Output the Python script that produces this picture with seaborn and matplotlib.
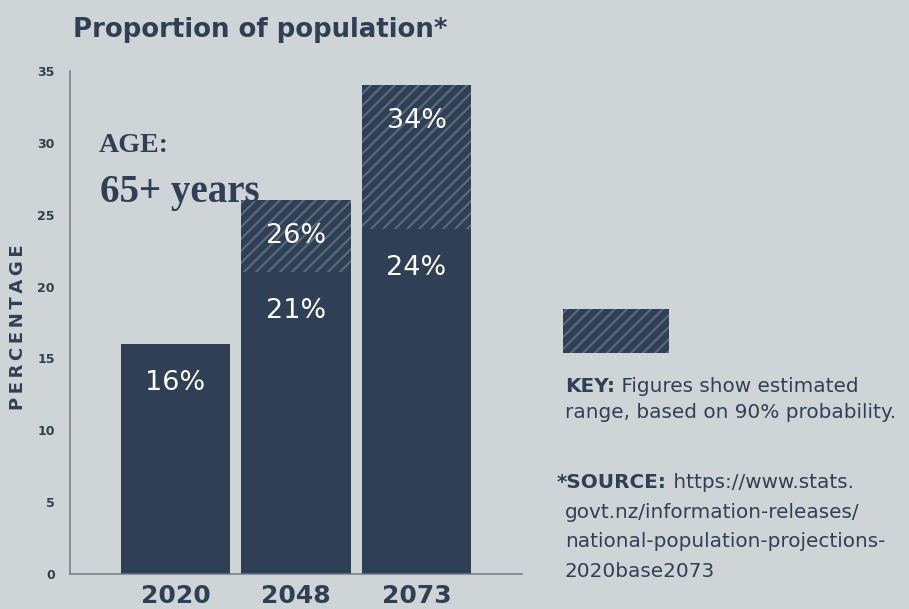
import matplotlib
matplotlib.use("Agg")
import matplotlib.pyplot as plt
import seaborn as sns
import pandas as pd
from matplotlib.patches import Rectangle

# ---- data ----
years = ["2020", "2048", "2073"]
base_values = [16, 21, 24]          # solid part (%)
upper_values = [16, 26, 34]         # top of estimated range (%)
base_labels = ["16%", "21%", "24%"]
upper_labels = [None, "26%", "34%"]
y_ticks = [0, 5, 10, 15, 20, 25, 30, 35]

BG = "#cfd5d6"
NAVY = "#2f3f55"
HATCH = "#5d6c7d"
SPINE = "#6b7888"
SANS = ["DejaVu Sans"]

sns.set_theme(style="white")
plt.rcParams["font.family"] = SANS
plt.rcParams["hatch.color"] = HATCH
plt.rcParams["hatch.linewidth"] = 2.0

DPI = 72
fig = plt.figure(figsize=(909 / DPI, 609 / DPI), dpi=DPI, facecolor=BG)
ax = fig.add_axes([70 / 909, 35 / 609, 452 / 909, 503 / 609])
ax.set_facecolor(BG)

df = pd.DataFrame({"year": years, "base": base_values, "upper": upper_values})

sns.barplot(data=df, x="year", y="upper", ax=ax, color=NAVY, saturation=1,
            width=0.905, linewidth=0)
sns.barplot(data=df, x="year", y="base", ax=ax, color=NAVY, saturation=1,
            width=0.905, linewidth=0)

for p in ax.patches[:len(years)]:
    p.set_hatch("//")
    p.set_edgecolor(HATCH)
    p.set_linewidth(0)

for i, (b, bl) in enumerate(zip(base_values, base_labels)):
    ax.annotate(bl, xy=(i, b), xytext=(0, -39), textcoords="offset points",
                ha="center", va="center", color="white", fontsize=27)
for i, (u, ul) in enumerate(zip(upper_values, upper_labels)):
    if ul:
        ax.annotate(ul, xy=(i, u), xytext=(0, -36), textcoords="offset points",
                    ha="center", va="center", color="white", fontsize=27)

ax.set_xlim(-0.8755, 2.8755)
ax.set_ylim(0, 35)
ax.set_yticks(y_ticks)
ax.set_yticklabels([str(t) for t in y_ticks], fontsize=12.5, fontweight="bold", color=NAVY)
ax.set_xticks(range(len(years)))
ax.set_xticklabels(years, fontsize=25, fontweight="bold", color=NAVY)
ax.tick_params(axis="x", which="major", length=0, pad=10)
ax.tick_params(axis="y", direction="in", length=8, width=1.3, color=SPINE, pad=15)
ax.set_xticks([2.8755], minor=True)
ax.tick_params(axis="x", which="minor", direction="in", length=11, width=1.3, color=SPINE)
ax.set_xlabel("")
ax.set_ylabel("")
for s in ["top", "right"]:
    ax.spines[s].set_visible(False)
for s in ["left", "bottom"]:
    ax.spines[s].set_color(SPINE)
    ax.spines[s].set_linewidth(1.5)

fig.text(18 / 909, 1 - 327 / 609, "\u2009".join("PERCENTAGE"), rotation=90,
         ha="center", va="center", fontsize=18, fontweight="bold", color=NAVY)

fig.text(73 / 909, 1 - 37 / 609, "Proportion of population*", ha="left",
         va="baseline", fontsize=26, fontweight="bold", color=NAVY)

fig.text(99 / 909, 1 - 152 / 609, "AGE:", ha="left", va="baseline",
         fontsize=28, fontweight="bold", color=NAVY, family="Liberation Serif")
fig.text(100 / 909, 1 - 202 / 609, "65+ years", ha="left", va="baseline",
         fontsize=39, fontweight="bold", color=NAVY, family="Liberation Serif")

# key swatch
fig.patches.append(Rectangle((563 / 909, 1 - 353 / 609), 106 / 909, 44 / 609,
                             transform=fig.transFigure, facecolor=NAVY,
                             edgecolor=HATCH, hatch="//", linewidth=0))


def mixed(x, y, bold, rest):
    t = fig.text(x / 909, 1 - y / 609, bold, ha="left", va="baseline",
                 fontsize=20, fontweight="bold", color=NAVY)
    ax.annotate(rest, xy=(1, 0), xycoords=t, ha="left", va="bottom",
                fontsize=20, color=NAVY, annotation_clip=False)


def plain(x, y, s):
    fig.text(x / 909, 1 - y / 609, s, ha="left", va="baseline",
             fontsize=20, color=NAVY)


mixed(565, 392, "KEY:", " Figures show estimated")
plain(565, 418, "range, based on 90% probability.")
mixed(557, 488, "*SOURCE:", " https://www.stats.")
plain(565, 518, "govt.nz/information-releases/")
plain(565, 547, "national-population-projections-")
plain(565, 577, "2020base2073")

fig.savefig("out.png", dpi=DPI, facecolor=BG)
